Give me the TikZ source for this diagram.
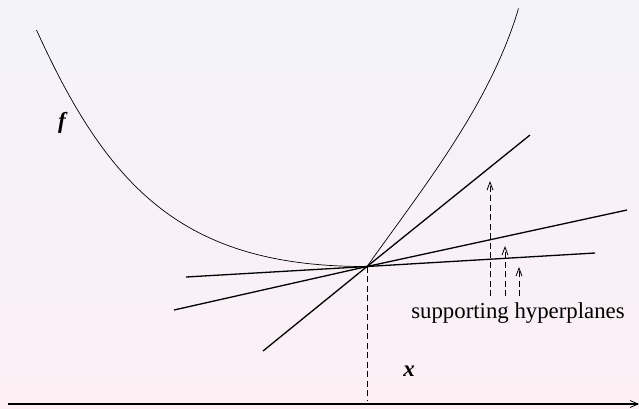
\documentclass[tikz,border=0pt]{standalone}
\usepackage{fontspec}
\setmainfont{Liberation Serif}
\usetikzlibrary{arrows.meta}
\definecolor{bgtop}{RGB}{243,242,251}
\definecolor{bgbot}{RGB}{252,240,244}
\begin{document}
\begin{tikzpicture}[x=1pt,y=-1pt,
  curve/.style={line width=0.7pt, line join=round},
  hyp/.style={line width=1.3pt},
  dsh/.style={line width=0.8pt, dash pattern=on 6pt off 3.5pt},
  uparrow/.style={dsh, -{Straight Barb[length=8pt,width=6pt,line width=0.8pt]}},
  lbl/.style={font=\fontsize{23}{26}\selectfont\bfseries\itshape, anchor=base, inner sep=0pt},
  txt/.style={font=\fontsize{22.8}{26}\selectfont, anchor=base, inner sep=0pt}]
\shade[top color=bgtop, bottom color=bgbot] (0,0) rectangle (639,408);
\useasboundingbox (0,0) rectangle (639,408);
% key points
\coordinate (K) at (367,266.5);
\coordinate (F0) at (36.5,30);  \coordinate (F1) at (518.5,8.5);
\coordinate (L1a) at (263,351);  \coordinate (L1b) at (530,135);
\coordinate (L2a) at (174,310);  \coordinate (L2b) at (627,210);
\coordinate (L3a) at (186,277);  \coordinate (L3b) at (595,253);
\coordinate (Kdown) at (367,400);
\coordinate (Ax0) at (8,404);    \coordinate (Ax1) at (639,404);
% function
\draw[curve] (F0) .. controls (109,190) and (185,267) .. (K)
                  .. controls (425,185) and (490,104.3) .. (F1);
% supporting hyperplanes
\draw[hyp] (L1a) -- (K) -- (L1b);
\draw[hyp] (L2a) -- (K) -- (L2b);
\draw[hyp] (L3a) -- (K) -- (L3b);
% vertical dashed line and axis
\draw[dsh] (K) -- (Kdown);
\draw[line width=1.2pt, -{Straight Barb[length=8pt,width=7pt,line width=0.8pt]}] (Ax0) -- (Ax1);
% arrows
\coordinate (A1s) at (490,296); \coordinate (A1e) at (490,181);
\coordinate (A2s) at (505,296); \coordinate (A2e) at (505,246);
\coordinate (A3s) at (519,296); \coordinate (A3e) at (519,267);
\draw[uparrow] (A1s) -- (A1e);
\draw[uparrow] (A2s) -- (A2e);
\draw[uparrow] (A3s) -- (A3e);
% labels
\node[lbl] (f) at (62,128) {f};
\node[lbl] (x) at (409,376) {x};
\node[txt] (sh) at (518,318) {supporting hyperplanes};
\end{tikzpicture}
\end{document}
